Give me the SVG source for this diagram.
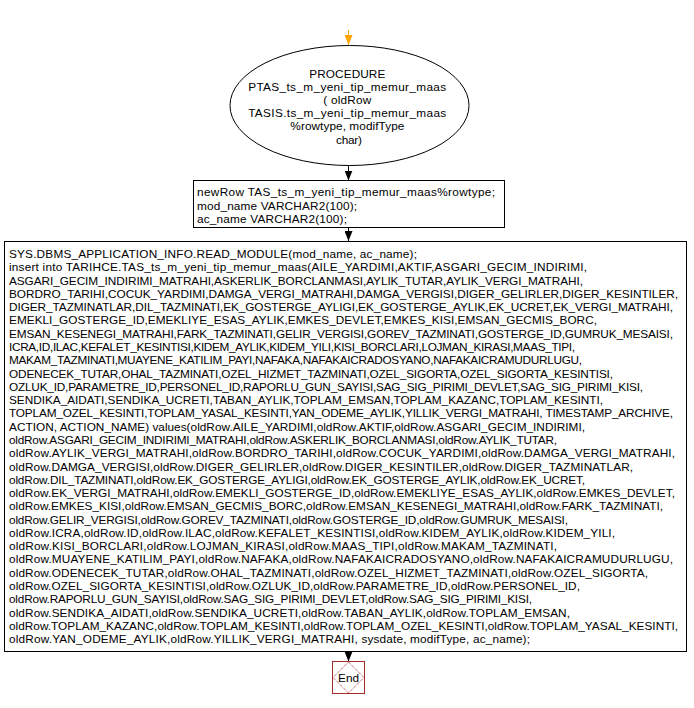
<svg xmlns="http://www.w3.org/2000/svg" width="694" height="708" viewBox="0 0 694 708">
  <style>
    .lbl { font-family: "Liberation Sans", Arial, sans-serif; font-size: 11.8px; fill: #000; }
    .shape { fill: #fff; stroke: #000; stroke-width: 1; }
    .edge { stroke: #000; stroke-width: 1; fill: none; }
  </style>
  <defs>
    <!-- filled arrowheads, drawn along +x so orient="auto" turns them with the line -->
    <marker id="ah" markerWidth="10" markerHeight="8" refX="10" refY="4" orient="auto" markerUnits="userSpaceOnUse" viewBox="0 0 10 8">
      <path d="M0,0 L10,4 L0,8 Z" fill="#000"/>
    </marker>
    <marker id="ahStart" markerWidth="10" markerHeight="8" refX="10" refY="4" orient="auto" markerUnits="userSpaceOnUse" viewBox="0 0 10 8">
      <path d="M0,0 L10,4 L0,8 Z" fill="#ffa500"/>
    </marker>
  </defs>
  <rect width="694" height="708" fill="#fff"/>

  <g id="connectors">
    <line x1="348.5" y1="30" x2="348.5" y2="45" stroke="#ffa500" stroke-width="1" marker-end="url(#ahStart)"/>
    <line class="edge" x1="348.5" y1="165" x2="348.5" y2="180.5" marker-end="url(#ah)"/>
    <line class="edge" x1="348.5" y1="227" x2="348.5" y2="241" marker-end="url(#ah)"/>
    <line class="edge" x1="348.5" y1="651" x2="348.5" y2="661.5" marker-end="url(#ah)"/>
  </g>

  <g id="start">
    <ellipse class="shape" cx="349.5" cy="105.5" rx="119.5" ry="60"/>
    <text class="lbl" text-anchor="middle" lengthAdjust="spacing">
      <tspan x="349" y="77.5" textLength="76">PROCEDURE</tspan>
      <tspan x="349" y="90.7" textLength="198">PTAS_ts_m_yeni_tip_memur_maas</tspan>
      <tspan x="349" y="103.9" textLength="48">( oldRow</tspan>
      <tspan x="349" y="117.1" textLength="198">TASIS.ts_m_yeni_tip_memur_maas</tspan>
      <tspan x="349" y="130.3" textLength="114">%rowtype, modifType</tspan>
      <tspan x="349" y="143.5" textLength="26">char)</tspan>
    </text>
  </g>

  <g id="declare">
    <rect class="shape" x="193.5" y="180.5" width="311" height="47"/>
    <text class="lbl">
      <tspan x="197" y="196" textLength="298">newRow TAS_ts_m_yeni_tip_memur_maas%rowtype;</tspan>
      <tspan x="197" y="209.5" textLength="160">mod_name VARCHAR2(100);</tspan>
      <tspan x="197" y="223" textLength="150">ac_name VARCHAR2(100);</tspan>
    </text>
  </g>

  <g id="body">
    <rect class="shape" x="4.5" y="241.5" width="682" height="410"/>
    <text class="lbl">
      <tspan x="9" y="258" textLength="408">SYS.DBMS_APPLICATION_INFO.READ_MODULE(mod_name, ac_name);</tspan>
      <tspan x="9" y="271.3" textLength="578">insert into TARIHCE.TAS_ts_m_yeni_tip_memur_maas(AILE_YARDIMI,AKTIF,ASGARI_GECIM_INDIRIMI,</tspan>
      <tspan x="9" y="284.6" textLength="574">ASGARI_GECIM_INDIRIMI_MATRAHI,ASKERLIK_BORCLANMASI,AYLIK_TUTAR,AYLIK_VERGI_MATRAHI,</tspan>
      <tspan x="9" y="297.8" textLength="669">BORDRO_TARIHI,COCUK_YARDIMI,DAMGA_VERGI_MATRAHI,DAMGA_VERGISI,DIGER_GELIRLER,DIGER_KESINTILER,</tspan>
      <tspan x="9" y="311.1" textLength="664">DIGER_TAZMINATLAR,DIL_TAZMINATI,EK_GOSTERGE_AYLIGI,EK_GOSTERGE_AYLIK,EK_UCRET,EK_VERGI_MATRAHI,</tspan>
      <tspan x="9" y="324.4" textLength="588">EMEKLI_GOSTERGE_ID,EMEKLIYE_ESAS_AYLIK,EMKES_DEVLET,EMKES_KISI,EMSAN_GECMIS_BORC,</tspan>
      <tspan x="9" y="337.7" textLength="664">EMSAN_KESENEGI_MATRAHI,FARK_TAZMINATI,GELIR_VERGISI,GOREV_TAZMINATI,GOSTERGE_ID,GUMRUK_MESAISI,</tspan>
      <tspan x="9" y="351" textLength="566">ICRA,ID,ILAC,KEFALET_KESINTISI,KIDEM_AYLIK,KIDEM_YILI,KISI_BORCLARI,LOJMAN_KIRASI,MAAS_TIPI,</tspan>
      <tspan x="9" y="364.2" textLength="573">MAKAM_TAZMINATI,MUAYENE_KATILIM_PAYI,NAFAKA,NAFAKAICRADOSYANO,NAFAKAICRAMUDURLUGU,</tspan>
      <tspan x="9" y="377.5" textLength="604">ODENECEK_TUTAR,OHAL_TAZMINATI,OZEL_HIZMET_TAZMINATI,OZEL_SIGORTA,OZEL_SIGORTA_KESINTISI,</tspan>
      <tspan x="9" y="390.8" textLength="634">OZLUK_ID,PARAMETRE_ID,PERSONEL_ID,RAPORLU_GUN_SAYISI,SAG_SIG_PIRIMI_DEVLET,SAG_SIG_PIRIMI_KISI,</tspan>
      <tspan x="9" y="404.1" textLength="594">SENDIKA_AIDATI,SENDIKA_UCRETI,TABAN_AYLIK,TOPLAM_EMSAN,TOPLAM_KAZANC,TOPLAM_KESINTI,</tspan>
      <tspan x="9" y="417.4" textLength="664">TOPLAM_OZEL_KESINTI,TOPLAM_YASAL_KESINTI,YAN_ODEME_AYLIK,YILLIK_VERGI_MATRAHI, TIMESTAMP_ARCHIVE,</tspan>
      <tspan x="9" y="430.6" textLength="576">ACTION, ACTION_NAME) values(oldRow.AILE_YARDIMI,oldRow.AKTIF,oldRow.ASGARI_GECIM_INDIRIMI,</tspan>
      <tspan x="9" y="443.9" textLength="548">oldRow.ASGARI_GECIM_INDIRIMI_MATRAHI,oldRow.ASKERLIK_BORCLANMASI,oldRow.AYLIK_TUTAR,</tspan>
      <tspan x="9" y="457.2" textLength="666">oldRow.AYLIK_VERGI_MATRAHI,oldRow.BORDRO_TARIHI,oldRow.COCUK_YARDIMI,oldRow.DAMGA_VERGI_MATRAHI,</tspan>
      <tspan x="9" y="470.5" textLength="624">oldRow.DAMGA_VERGISI,oldRow.DIGER_GELIRLER,oldRow.DIGER_KESINTILER,oldRow.DIGER_TAZMINATLAR,</tspan>
      <tspan x="9" y="483.8" textLength="576">oldRow.DIL_TAZMINATI,oldRow.EK_GOSTERGE_AYLIGI,oldRow.EK_GOSTERGE_AYLIK,oldRow.EK_UCRET,</tspan>
      <tspan x="9" y="497" textLength="666">oldRow.EK_VERGI_MATRAHI,oldRow.EMEKLI_GOSTERGE_ID,oldRow.EMEKLIYE_ESAS_AYLIK,oldRow.EMKES_DEVLET,</tspan>
      <tspan x="9" y="510.3" textLength="654">oldRow.EMKES_KISI,oldRow.EMSAN_GECMIS_BORC,oldRow.EMSAN_KESENEGI_MATRAHI,oldRow.FARK_TAZMINATI,</tspan>
      <tspan x="9" y="523.6" textLength="559">oldRow.GELIR_VERGISI,oldRow.GOREV_TAZMINATI,oldRow.GOSTERGE_ID,oldRow.GUMRUK_MESAISI,</tspan>
      <tspan x="9" y="536.9" textLength="606">oldRow.ICRA,oldRow.ID,oldRow.ILAC,oldRow.KEFALET_KESINTISI,oldRow.KIDEM_AYLIK,oldRow.KIDEM_YILI,</tspan>
      <tspan x="9" y="550.2" textLength="548">oldRow.KISI_BORCLARI,oldRow.LOJMAN_KIRASI,oldRow.MAAS_TIPI,oldRow.MAKAM_TAZMINATI,</tspan>
      <tspan x="9" y="563.4" textLength="664">oldRow.MUAYENE_KATILIM_PAYI,oldRow.NAFAKA,oldRow.NAFAKAICRADOSYANO,oldRow.NAFAKAICRAMUDURLUGU,</tspan>
      <tspan x="9" y="576.7" textLength="639">oldRow.ODENECEK_TUTAR,oldRow.OHAL_TAZMINATI,oldRow.OZEL_HIZMET_TAZMINATI,oldRow.OZEL_SIGORTA,</tspan>
      <tspan x="9" y="590" textLength="571">oldRow.OZEL_SIGORTA_KESINTISI,oldRow.OZLUK_ID,oldRow.PARAMETRE_ID,oldRow.PERSONEL_ID,</tspan>
      <tspan x="9" y="603.3" textLength="523">oldRow.RAPORLU_GUN_SAYISI,oldRow.SAG_SIG_PIRIMI_DEVLET,oldRow.SAG_SIG_PIRIMI_KISI,</tspan>
      <tspan x="9" y="616.6" textLength="561">oldRow.SENDIKA_AIDATI,oldRow.SENDIKA_UCRETI,oldRow.TABAN_AYLIK,oldRow.TOPLAM_EMSAN,</tspan>
      <tspan x="9" y="629.8" textLength="669">oldRow.TOPLAM_KAZANC,oldRow.TOPLAM_KESINTI,oldRow.TOPLAM_OZEL_KESINTI,oldRow.TOPLAM_YASAL_KESINTI,</tspan>
      <tspan x="9" y="643" textLength="521">oldRow.YAN_ODEME_AYLIK,oldRow.YILLIK_VERGI_MATRAHI, sysdate, modifType, ac_name);</tspan>
    </text>
  </g>

  <g id="end">
    <rect x="332.5" y="661.5" width="32" height="32" fill="#fff" stroke="#a52a2a" stroke-width="1"/>
    <path d="M348.5,662 L364,677.5 L348.5,693 L333,677.5 Z" fill="none" stroke="#a52a2a" stroke-width="1" stroke-dasharray="1,1"/>
    <text class="lbl" x="348.5" y="682" text-anchor="middle" textLength="21">End</text>
  </g>
</svg>
